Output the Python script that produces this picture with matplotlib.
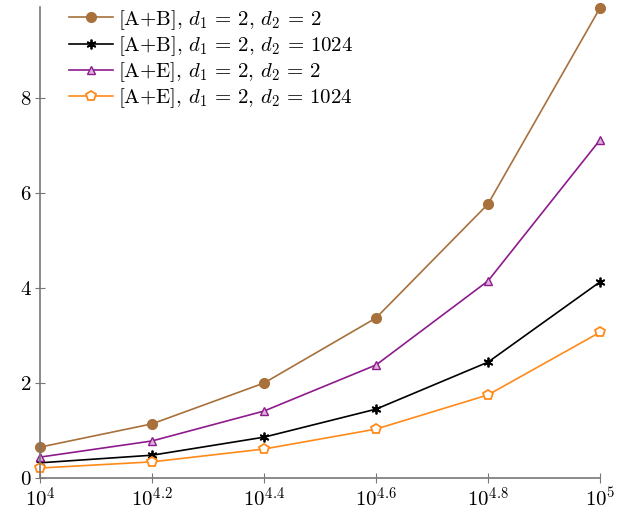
import matplotlib
matplotlib.use('Agg')
import matplotlib.pyplot as plt
import numpy as np

plt.rcParams['font.family'] = 'serif'
plt.rcParams['font.serif'] = ['cmr10', 'DejaVu Serif']
plt.rcParams['mathtext.fontset'] = 'cm'
plt.rcParams['axes.formatter.use_mathtext'] = True

exponents = [4.0, 4.2, 4.4, 4.6, 4.8, 5.0]
x_vals = [10 ** e for e in exponents]

ab_2 = [0.65, 1.14, 2.00, 3.37, 5.77, 9.90]
ab_1024 = [0.32, 0.48, 0.86, 1.45, 2.44, 4.13]
ae_2 = [0.44, 0.78, 1.41, 2.38, 4.15, 7.12]
ae_1024 = [0.21, 0.34, 0.61, 1.03, 1.75, 3.07]

labels = [r'[A+B], $d_1\,=\,2$, $d_2\,=\,2$',
          r'[A+B], $d_1\,=\,2$, $d_2\,=\,1024$',
          r'[A+E], $d_1\,=\,2$, $d_2\,=\,2$',
          r'[A+E], $d_1\,=\,2$, $d_2\,=\,1024$']
xtick_labels = [r'$10^{4}$', r'$10^{4.2}$', r'$10^{4.4}$',
                r'$10^{4.6}$', r'$10^{4.8}$', r'$10^{5}$']
yticks = [0, 2, 4, 6, 8]

fig = plt.figure(figsize=(6.19, 5.13), dpi=100)
ax = fig.add_axes([40/619, 1-478/513, 560/619, 471/513])

ax.plot(x_vals, ab_2, '-o', color='#a8703a', ms=7, lw=1.2, label=labels[0], clip_on=False)
ax.plot(x_vals, ab_1024, '-', marker=(6, 2, 0), color='black', ms=7, mew=1.3, lw=1.2,
        label=labels[1], clip_on=False)
ax.plot(x_vals, ae_2, '-^', color='#8e1a8e', mfc='#d9b3d9', ms=6, lw=1.2, label=labels[2], clip_on=False)
ax.plot(x_vals, ae_1024, '-p', color='#ff8a1a', mfc='white', ms=7, mew=1.3, lw=1.2, label=labels[3], clip_on=False)

ax.set_xscale('log')
ax.set_xlim(x_vals[0], x_vals[-1])
ax.set_ylim(0, 9.92)
ax.set_xticks(x_vals)
ax.set_xticklabels(xtick_labels, fontsize=15)
ax.xaxis.set_minor_locator(matplotlib.ticker.NullLocator())
ax.set_yticks(yticks)
ax.set_yticklabels([str(v) for v in yticks], fontsize=15)

for s in ['top', 'right']:
    ax.spines[s].set_visible(False)
for s in ['left', 'bottom']:
    ax.spines[s].set_color('#777777')
    ax.spines[s].set_linewidth(1.2)
ax.tick_params(direction='inout', length=7, width=0.8, color='#777777', pad=3)

ax.legend(loc='upper left', bbox_to_anchor=(0.03, 1.025), frameon=False, fontsize=15,
          handlelength=2.1, handletextpad=0.25, labelspacing=0.12, borderaxespad=0.2)

plt.savefig('out.png', dpi=100, facecolor='white')
